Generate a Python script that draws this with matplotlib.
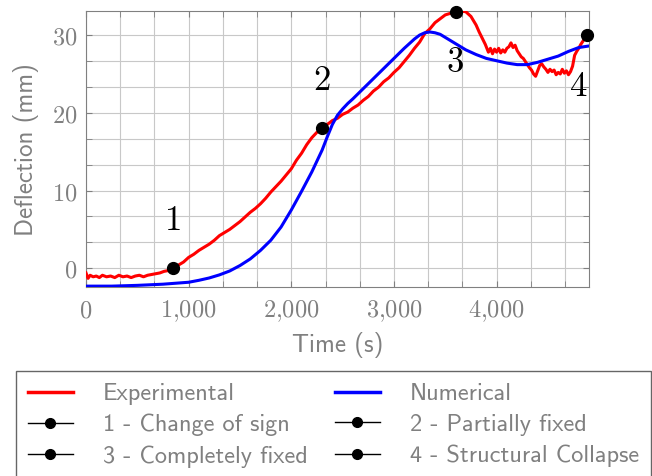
import numpy as np
import matplotlib
matplotlib.use("Agg")
import matplotlib.pyplot as plt
from matplotlib.ticker import MultipleLocator, FuncFormatter
from matplotlib.lines import Line2D

plt.rcParams.update({
    "mathtext.fontset": "cm",
    "font.size": 15,
})

C_RED = "#ff0000"; C_BLUE = "#0000ff"; C_GREY = "#808080"

# experimental deflection record
exp_t = [0, 20, 40, 70, 100, 130, 160, 200, 240, 280, 320, 360, 400, 440, 480,
         520, 560, 600, 640, 680, 720, 760, 800, 849,
         900, 950, 1000, 1050, 1100, 1150, 1200, 1250, 1300, 1350, 1400, 1450,
         1500, 1550, 1600, 1650, 1700, 1750, 1800, 1850, 1900, 1950, 2000, 2050,
         2100, 2150, 2200, 2250, 2300,
         2350, 2400, 2450, 2500, 2550, 2600, 2650, 2700, 2750, 2800, 2850, 2900,
         2950, 3000, 3050, 3100, 3150, 3200, 3250, 3300, 3350, 3400, 3450, 3500,
         3550, 3600, 3650, 3700, 3750, 3800,
         3830, 3860, 3890, 3920, 3940, 3960, 3980,
         4000, 4020, 4040, 4060, 4080, 4100, 4120, 4140, 4160, 4180, 4200,
         4220, 4240, 4260, 4280, 4300, 4320, 4340, 4360, 4380, 4400, 4420, 4440,
         4460, 4480, 4500, 4520, 4540, 4560, 4580, 4600, 4620, 4640, 4660, 4680,
         4700, 4720, 4740, 4760, 4780, 4800, 4820, 4840, 4860, 4885]
exp_d = [-0.6, -1.3, -0.9, -1.1, -1.0, -1.2, -0.9, -1.1, -1.0, -1.2, -0.9, -1.1,
         -1.0, -1.2, -1.0, -0.9, -1.1, -0.9, -0.8, -0.7, -0.6, -0.4, -0.3, 0.0,
         0.4, 0.8, 1.4, 1.8, 2.3, 2.7, 3.1, 3.6, 4.2, 4.6, 5.0, 5.5,
         6.0, 6.6, 7.2, 7.7, 8.3, 9.0, 9.8, 10.5, 11.2, 12.0, 12.8, 13.9,
         14.8, 15.9, 16.8, 17.5, 18.1,
         18.5, 19.0, 19.3, 19.8, 20.1, 20.6, 21.0, 21.6, 22.1, 22.8, 23.3, 24.0,
         24.5, 25.2, 25.8, 26.6, 27.4, 28.3, 29.1, 30.2, 30.8, 31.6, 32.1, 32.6,
         32.8, 33.0, 33.1, 33.0, 32.4, 31.3,
         30.4, 29.6, 28.8, 27.8, 28.3, 27.6, 28.2,
         27.8, 28.3, 27.7, 28.1, 27.8, 28.3, 28.5, 29.0, 28.4, 28.7, 28.0,
         27.6, 27.2, 27.0, 26.6, 26.2, 25.8, 25.5, 25.0, 24.7, 25.4, 26.1, 26.3,
         25.9, 25.6, 25.2, 25.6, 25.3, 25.5, 24.9, 25.2, 25.0, 25.6, 25.1, 25.4,
         24.9, 25.3, 26.0, 27.4, 27.9, 28.3, 28.8, 29.2, 29.6, 30.0]

# numerical model
num_t = [0, 250, 500, 750, 1000, 1100, 1200, 1300, 1400, 1500, 1600, 1700, 1800,
         1900, 2000, 2100, 2200, 2300, 2350, 2400, 2450, 2500, 2550, 2600, 2700,
         2800, 2900, 3000, 3100, 3200, 3250, 3300, 3350, 3400, 3450, 3500, 3550,
         3600, 3700, 3800, 3900, 4000, 4100, 4200, 4300, 4400, 4500, 4600, 4700,
         4800, 4900]
num_d = [-2.3, -2.3, -2.2, -2.05, -1.8, -1.55, -1.25, -0.85, -0.35, 0.35, 1.2,
         2.3, 3.6, 5.3, 7.5, 9.9, 12.4, 15.2, 16.9, 18.5, 19.7, 20.5, 21.2, 21.8,
         23.1, 24.4, 25.7, 27.0, 28.3, 29.5, 30.0, 30.3, 30.4, 30.3, 30.1, 29.7,
         29.3, 28.9, 28.1, 27.5, 27.0, 26.7, 26.4, 26.2, 26.2, 26.5, 26.9, 27.3,
         27.9, 28.4, 28.6]

# key events
ev_t = [849, 2300, 3600, 4885]
ev_d = [0.0, 18.1, 33.0, 30.0]
ev_num = ["1", "2", "3", "4"]
ev_lbl = ["1 - Change of sign", "2 - Partially fixed",
          "3 - Completely fixed", "4 - Structural Collapse"]
ev_txt_pos = [(839, 6.2), (2293, 24.2), (3590, 26.6), (4790, 23.5)]

fig = plt.figure(figsize=(6.52, 4.76), dpi=100)
ax = fig.add_axes([86/652, 1-287.3/476, 503/652, 276.3/476])

ax.plot(exp_t, exp_d, color=C_RED, lw=2.2, zorder=3)
ax.plot(num_t, num_d, color=C_BLUE, lw=2.2, zorder=3)
ax.plot(ev_t, ev_d, ls="none", marker="o", ms=8.5, color="black", zorder=5, clip_on=False)
for s, (tx, ty) in zip(ev_num, ev_txt_pos):
    ax.text(tx, ty, "$" + s + "$", fontsize=25, ha="center", va="center", color="black")

ax.set_xlim(0, 4900)
ax.set_ylim(-2.45, 33.1)
ax.xaxis.set_major_locator(MultipleLocator(1000))
ax.xaxis.set_minor_locator(MultipleLocator(1000/3))
ax.yaxis.set_major_locator(MultipleLocator(10))
ax.yaxis.set_minor_locator(MultipleLocator(10/3))
ax.xaxis.set_major_formatter(FuncFormatter(lambda v, p: "$" + f"{v:,.0f}".replace(",", "{,}") + "$"))
ax.yaxis.set_major_formatter(FuncFormatter(lambda v, p: f"${v:.0f}$"))
ax.grid(which="both", color="#c8c8c8", lw=0.8)
ax.set_axisbelow(True)
ax.tick_params(which="both", direction="in", top=True, right=True, color=C_GREY,
               labelcolor=C_GREY, labelsize=17.5, length=4)
ax.tick_params(axis="x", pad=8)
ax.tick_params(axis="y", pad=6)
for sp in ax.spines.values():
    sp.set_color(C_GREY)

ax.set_xlabel("Time (s)", family="cmss10", color=C_GREY, fontsize=18, labelpad=6)
ax.set_ylabel("Deflection (mm)", family="cmss10", color=C_GREY, fontsize=18, labelpad=9.5)

handles = [Line2D([], [], color=C_RED, lw=2.5), Line2D([], [], color=C_BLUE, lw=2.5)]
for _ in ev_lbl:
    handles.append(Line2D([], [], color="black", lw=1, marker="o", ms=7))
labels = ["Experimental", "Numerical"] + ev_lbl
# column-major ordering for a 2-column legend
order = [0, 2, 4, 1, 3, 5]
leg = fig.legend([handles[i] for i in order], [labels[i] for i in order],
                 loc="upper left", bbox_to_anchor=(15.7/652, 1-371/476), ncol=2,
                 frameon=True, fancybox=False, edgecolor="#404040", borderaxespad=0,
                 handlelength=1.85, handletextpad=1.25, columnspacing=1.1,
                 labelspacing=0.36, borderpad=0.5, prop={"family": "cmss10", "size": 17.5})
leg.get_frame().set_linewidth(1.0)
for t in leg.get_texts():
    t.set_color(C_GREY)

fig.savefig("out.png", dpi=100)
